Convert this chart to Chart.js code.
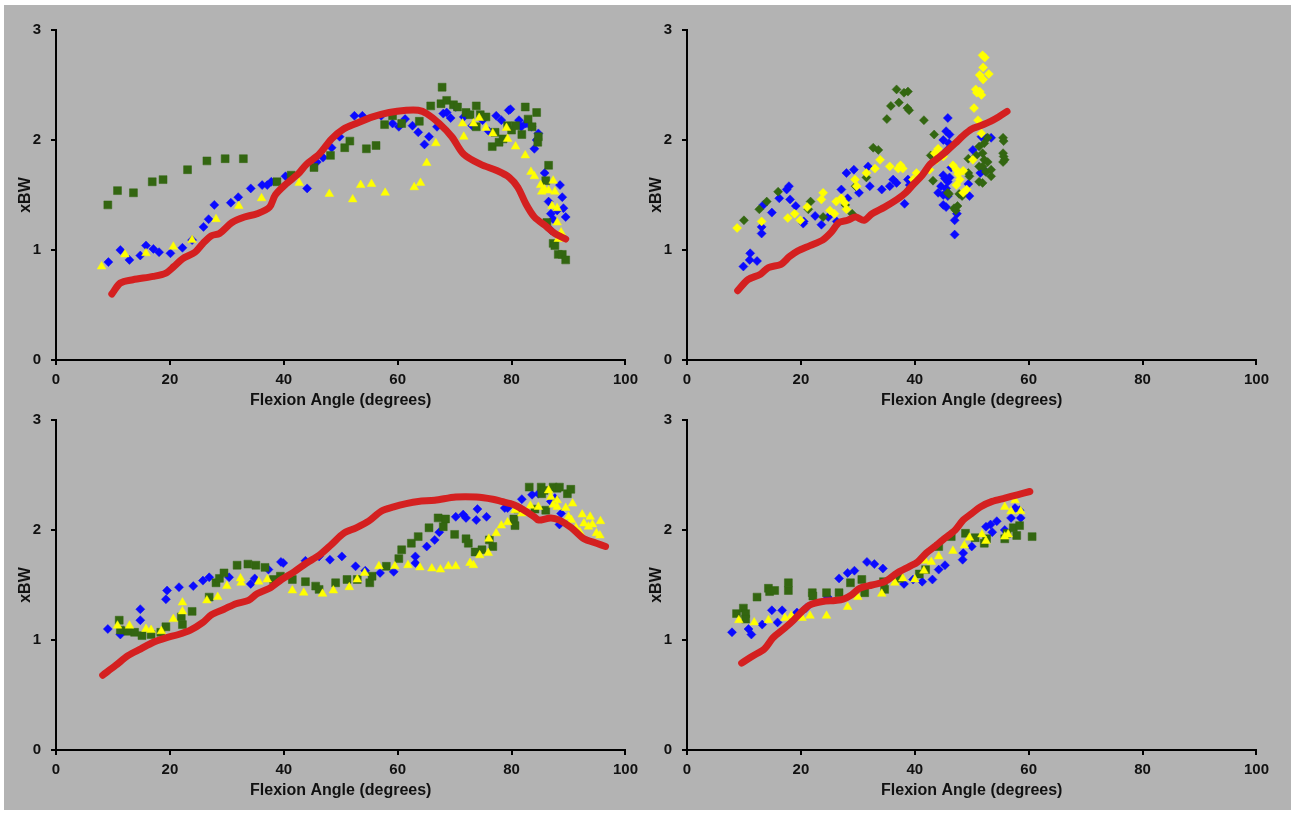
<!DOCTYPE html>
<html>
<head>
<meta charset="utf-8">
<script src="https://cdn.jsdelivr.net/npm/chart.js@4/dist/chart.umd.min.js"></script>
<style>
  html, body { margin: 0; padding: 0; background: #fff; width: 1291px; height: 814px; overflow: hidden; }
  #sheet { position: absolute; left: 4px; top: 5px; width: 1287px; height: 805px; background: #b3b3b3; }
  canvas { position: absolute; }
</style>
</head>
<body>
<div id="sheet"></div>
<canvas id="c1" width="640" height="405" style="left:4px;top:5px"></canvas>
<canvas id="c2" width="640" height="405" style="left:635px;top:5px"></canvas>
<canvas id="c3" width="640" height="405" style="left:4px;top:395px"></canvas>
<canvas id="c4" width="640" height="405" style="left:635px;top:395px"></canvas>
<script>
// axes
const xTicks = [0, 20, 40, 60, 80, 100];
const yTicks = [0, 1, 2, 3];
const xTitle = 'Flexion Angle (degrees)';
const yTitle = 'xBW';

// panel 1 (top left)
const p1Red = [[9.8,0.60],[11.3,0.70],[13.5,0.73],[17.1,0.76],[19.3,0.79],[20.7,0.85],[22.2,0.92],[24.4,0.98],[25.8,1.06],[27.3,1.13],[28.7,1.15],[30.9,1.25],[33.1,1.30],[35.3,1.33],[37.5,1.39],[38.5,1.50],[40.4,1.60],[42.5,1.69],[44.0,1.78],[46.2,1.87],[48.4,2.01],[50.5,2.10],[52.7,2.15],[55.6,2.21],[58.5,2.25],[61.5,2.27],[63.6,2.27],[65.1,2.24],[67.3,2.15],[69.5,2.03],[71.6,1.87],[74.5,1.78],[77.5,1.72],[79.6,1.66],[81.1,1.57],[82.5,1.42],[84.0,1.30],[86.2,1.21],[87.6,1.15],[89.5,1.10]];
const p1Blue = [[9.2,0.89],[11.3,1.00],[12.9,0.91],[14.8,0.95],[15.8,1.04],[17.1,1.01],[18.1,0.98],[20.1,0.97],[22.2,1.02],[23.9,1.09],[25.9,1.21],[26.8,1.28],[27.8,1.41],[30.7,1.43],[32.0,1.48],[34.2,1.56],[36.2,1.59],[37.1,1.59],[37.8,1.62],[40.3,1.67],[44.1,1.56],[45.8,1.80],[46.9,1.84],[48.4,1.93],[49.8,2.03],[52.4,2.22],[53.8,2.22],[57.1,2.22],[59.1,2.15],[60.2,2.12],[61.3,2.19],[62.6,2.13],[63.6,2.07],[64.7,1.96],[65.5,2.03],[66.9,2.12],[68.0,2.24],[68.6,2.25],[69.3,2.20],[70.2,2.30],[71.6,2.21],[73.1,2.13],[74.9,2.18],[76.0,2.08],[77.3,2.22],[78.2,2.18],[79.5,2.27],[79.8,2.28],[81.3,2.18],[81.7,2.12],[82.5,2.15],[83.5,2.12],[84.0,1.92],[84.4,2.00],[84.7,2.06],[85.8,1.70],[86.5,1.44],[86.9,1.33],[87.3,1.28],[88.0,1.36],[88.5,1.59],[88.9,1.48],[89.1,1.38],[89.5,1.30],[86.9,1.18]];
const p1Green = [[9.1,1.41],[10.8,1.54],[13.6,1.52],[16.9,1.62],[18.8,1.64],[23.1,1.73],[26.5,1.81],[29.7,1.83],[32.9,1.83],[38.8,1.62],[41.3,1.68],[45.3,1.75],[48.2,1.86],[50.7,1.93],[51.6,1.99],[54.5,1.92],[56.2,1.95],[57.7,2.14],[59.1,2.22],[60.7,2.15],[63.8,2.17],[65.8,2.31],[67.8,2.48],[67.6,2.33],[68.6,2.36],[69.8,2.32],[70.5,2.30],[72.0,2.25],[72.7,2.23],[73.8,2.31],[73.8,2.12],[74.5,2.23],[75.5,2.21],[76.6,1.94],[77.1,2.07],[77.8,1.98],[78.5,2.01],[79.3,2.13],[80.0,2.09],[80.7,2.13],[81.8,2.05],[82.4,2.30],[82.9,2.19],[83.6,2.12],[84.4,2.25],[84.6,1.98],[84.7,2.03],[86.0,1.63],[86.5,1.77],[86.2,1.25],[87.3,1.06],[87.6,1.04],[88.2,0.96],[88.9,0.96],[89.5,0.91]];
const p1Yellow = [[8.0,0.85],[12.1,0.96],[15.8,0.97],[20.6,1.03],[23.9,1.09],[28.1,1.28],[32.1,1.40],[36.1,1.47],[42.7,1.61],[48.0,1.51],[52.1,1.46],[53.5,1.59],[55.4,1.60],[57.8,1.52],[62.9,1.57],[64.0,1.61],[65.1,1.79],[66.7,1.97],[71.6,2.03],[71.4,2.15],[73.3,2.15],[74.3,2.20],[75.5,2.11],[76.7,2.06],[79.1,2.11],[79.3,2.01],[80.7,1.94],[82.4,1.86],[83.4,1.71],[84.0,1.67],[85.1,1.59],[85.3,1.53],[85.8,1.55],[86.5,1.54],[87.3,1.63],[87.6,1.53],[87.1,1.40],[88.0,1.38],[88.0,1.25],[88.7,1.16],[88.2,1.10]];

// panel 2 (top right)
const p2Red = [[8.9,0.63],[10.7,0.73],[12.9,0.78],[14.3,0.84],[16.5,0.87],[18.0,0.94],[19.4,0.99],[21.6,1.04],[23.8,1.09],[25.3,1.16],[26.7,1.25],[28.2,1.27],[29.6,1.30],[31.1,1.27],[32.5,1.33],[34.7,1.39],[36.9,1.46],[38.4,1.52],[39.8,1.60],[41.3,1.68],[42.7,1.78],[44.2,1.84],[45.6,1.90],[47.1,1.97],[48.5,2.04],[50.0,2.10],[51.5,2.13],[53.3,2.17],[54.7,2.21],[56.2,2.26]];
const p2Blue = [[9.9,0.85],[11.1,0.97],[11.0,0.91],[12.3,0.90],[13.1,1.21],[13.1,1.15],[13.4,1.41],[14.9,1.34],[16.2,1.47],[17.5,1.55],[17.9,1.58],[18.1,1.46],[19.1,1.40],[20.4,1.24],[20.5,1.26],[22.5,1.31],[23.6,1.23],[24.8,1.30],[26.3,1.26],[27.1,1.55],[28.0,1.70],[28.2,1.47],[29.3,1.73],[30.2,1.52],[31.8,1.76],[32.1,1.58],[34.2,1.55],[36.2,1.64],[36.8,1.61],[35.6,1.58],[38.2,1.42],[38.8,1.64],[39.1,1.59],[44.1,1.52],[44.6,1.58],[45.0,1.68],[45.7,1.91],[46.0,1.97],[45.8,2.20],[45.5,2.08],[46.1,2.05],[45.0,2.00],[45.3,1.65],[45.5,1.56],[45.0,1.50],[45.8,1.49],[45.8,1.62],[46.1,1.66],[46.4,1.75],[45.0,1.41],[45.5,1.39],[47.4,1.33],[47.0,1.27],[47.0,1.14],[49.4,1.60],[49.6,1.49],[51.7,2.03],[52.5,2.02],[53.4,2.02],[50.2,1.91],[51.5,1.70],[52.3,1.72]];
const p2Green = [[10.0,1.27],[12.7,1.37],[14.0,1.44],[16.0,1.53],[21.3,1.37],[21.7,1.44],[23.9,1.30],[27.8,1.41],[29.0,1.33],[29.6,1.58],[31.5,1.66],[32.7,1.93],[33.6,1.91],[35.1,2.19],[35.8,2.31],[36.8,2.46],[37.2,2.34],[38.1,2.43],[38.8,2.44],[38.7,2.29],[39.0,2.27],[41.6,2.18],[43.4,2.05],[43.2,1.63],[42.8,1.86],[46.0,1.51],[46.9,1.38],[47.2,1.36],[47.8,1.51],[48.3,1.49],[45.8,1.52],[47.5,1.40],[49.4,1.83],[50.8,1.86],[51.3,1.94],[51.9,1.88],[52.2,1.97],[52.8,2.02],[52.2,1.82],[52.8,1.80],[51.9,1.76],[51.3,1.76],[52.5,1.71],[53.4,1.73],[53.4,1.67],[51.3,1.62],[51.9,1.61],[49.4,1.70],[49.6,1.67],[55.5,2.02],[55.6,1.99],[55.5,1.88],[55.6,1.85],[55.8,1.82],[55.5,1.80]];
const p2Yellow = [[8.8,1.20],[13.1,1.26],[17.7,1.29],[18.9,1.33],[19.9,1.27],[21.1,1.39],[23.6,1.46],[23.9,1.52],[25.1,1.36],[25.9,1.33],[26.2,1.44],[27.1,1.47],[27.7,1.43],[28.0,1.37],[29.5,1.64],[29.8,1.58],[31.5,1.70],[33.0,1.74],[33.9,1.82],[35.6,1.76],[37.1,1.74],[37.5,1.77],[37.9,1.74],[39.7,1.64],[40.3,1.70],[40.9,1.66],[42.6,1.73],[43.5,1.88],[44.1,1.92],[43.8,1.82],[45.0,1.85],[46.7,1.77],[47.3,1.73],[47.6,1.69],[47.9,1.64],[48.5,1.72],[47.3,1.59],[48.5,1.52],[49.1,1.55],[50.2,1.82],[50.4,2.29],[50.7,2.46],[50.9,2.43],[51.4,2.44],[51.7,2.41],[51.1,2.18],[51.7,2.06],[51.4,2.59],[52.0,2.66],[51.9,2.77],[52.3,2.75],[53.0,2.60],[52.0,2.55]];

// panel 3 (bottom left)
const p3Red = [[8.2,0.68],[10.5,0.77],[12.7,0.86],[14.9,0.92],[17.1,0.98],[19.3,1.02],[21.5,1.05],[23.6,1.09],[25.8,1.16],[27.3,1.23],[29.5,1.28],[31.6,1.33],[33.8,1.36],[35.3,1.42],[37.5,1.47],[39.6,1.55],[41.8,1.62],[44.0,1.70],[46.2,1.77],[48.4,1.87],[50.5,1.97],[52.7,2.02],[54.9,2.08],[57.1,2.17],[59.3,2.21],[61.5,2.24],[63.6,2.26],[66.5,2.27],[70.2,2.30],[73.8,2.30],[76.7,2.28],[78.2,2.26],[80.4,2.23],[82.2,2.18],[84.0,2.12],[84.7,2.09],[86.9,2.11],[88.4,2.09],[90.5,2.02],[92.7,1.92],[94.9,1.88],[96.5,1.85]];
const p3Blue = [[9.1,1.10],[11.3,1.05],[14.8,1.18],[14.8,1.28],[19.3,1.37],[19.5,1.45],[21.6,1.48],[24.1,1.49],[25.8,1.54],[26.9,1.57],[30.4,1.57],[34.2,1.51],[34.9,1.56],[37.3,1.64],[39.5,1.71],[39.9,1.70],[43.8,1.72],[46.2,1.76],[48.1,1.73],[50.2,1.76],[52.6,1.67],[54.3,1.63],[56.9,1.61],[59.3,1.62],[63.1,1.76],[63.1,1.70],[65.1,1.85],[66.5,1.91],[67.3,1.98],[70.2,2.12],[71.5,2.14],[72.0,2.11],[73.8,2.09],[74.0,2.19],[75.6,2.12],[78.8,2.20],[79.3,2.20],[81.8,2.28],[83.6,2.32],[84.7,2.33],[86.9,2.26],[87.6,2.29],[88.4,2.05],[88.7,2.15]];
const p3Green = [[11.1,1.18],[11.3,1.09],[12.6,1.08],[13.8,1.07],[15.1,1.04],[16.7,1.05],[18.4,1.07],[19.3,1.12],[22.0,1.21],[22.2,1.14],[23.9,1.26],[26.9,1.39],[28.1,1.52],[28.7,1.56],[29.5,1.61],[31.8,1.68],[33.7,1.69],[35.1,1.68],[36.7,1.66],[38.2,1.55],[39.4,1.58],[41.5,1.55],[43.8,1.53],[45.6,1.49],[46.2,1.46],[49.1,1.52],[51.1,1.55],[52.9,1.55],[55.1,1.52],[55.5,1.58],[58.0,1.67],[60.2,1.74],[60.7,1.82],[62.4,1.88],[63.6,1.94],[65.5,2.02],[67.1,2.11],[68.4,2.10],[68.0,2.03],[70.0,1.96],[72.0,1.92],[72.4,1.88],[73.6,1.80],[74.8,1.82],[76.1,1.91],[76.7,1.85],[80.4,2.10],[80.6,2.04],[81.1,2.19],[83.1,2.39],[84.1,2.19],[85.2,2.39],[85.3,2.33],[85.7,2.36],[87.3,2.39],[88.0,2.38],[88.4,2.39],[89.8,2.33],[90.4,2.37],[86.0,2.18]];
const p3Yellow = [[10.8,1.13],[12.9,1.13],[15.8,1.10],[16.7,1.09],[18.5,1.08],[20.6,1.19],[22.2,1.34],[22.2,1.26],[26.5,1.36],[28.4,1.39],[30.0,1.49],[32.4,1.56],[32.5,1.52],[35.6,1.53],[37.1,1.55],[41.5,1.45],[43.5,1.43],[46.8,1.42],[48.7,1.45],[51.5,1.48],[52.9,1.55],[54.2,1.61],[56.7,1.67],[59.5,1.67],[61.8,1.68],[63.9,1.66],[66.0,1.65],[67.5,1.64],[68.9,1.67],[70.2,1.67],[72.7,1.70],[73.3,1.68],[74.4,1.77],[75.9,1.79],[76.0,1.92],[77.3,1.97],[78.2,2.04],[79.3,2.07],[80.6,2.18],[81.8,2.15],[83.3,2.22],[84.7,2.21],[86.5,2.36],[86.9,2.30],[87.3,2.23],[88.0,2.21],[88.0,2.27],[89.5,2.20],[90.0,2.12],[90.7,2.24],[90.5,2.09],[91.3,2.02],[92.0,1.98],[92.4,2.14],[92.7,2.06],[93.5,2.03],[93.8,2.12],[94.2,2.05],[94.9,1.97],[95.5,1.95],[95.6,2.08]];

// panel 4 (bottom right)
const p4Red = [[9.6,0.79],[11.4,0.85],[13.6,0.92],[15.1,1.02],[17.2,1.11],[18.7,1.18],[20.2,1.26],[21.6,1.32],[23.8,1.35],[26.0,1.36],[27.4,1.37],[28.9,1.41],[30.3,1.47],[32.5,1.50],[34.7,1.53],[36.9,1.61],[39.1,1.67],[40.5,1.71],[42.0,1.79],[43.5,1.85],[44.9,1.91],[47.1,2.00],[48.5,2.09],[50.0,2.15],[51.5,2.21],[53.6,2.26],[55.8,2.29],[58.0,2.32],[60.2,2.35]];
const p4Blue = [[7.9,1.07],[10.8,1.10],[11.3,1.05],[13.2,1.14],[14.9,1.27],[15.9,1.16],[16.7,1.27],[19.3,1.25],[20.9,1.29],[24.7,1.39],[26.7,1.56],[28.2,1.61],[29.4,1.63],[31.6,1.71],[32.9,1.69],[34.4,1.65],[38.1,1.51],[39.7,1.55],[41.3,1.53],[43.1,1.55],[44.2,1.64],[45.3,1.68],[48.4,1.73],[48.5,1.79],[50.0,1.85],[52.5,2.03],[53.3,2.05],[53.6,1.98],[54.4,2.08],[55.8,2.00],[56.9,2.11],[57.6,2.20],[58.4,2.18],[58.6,2.11]];
const p4Green = [[8.7,1.24],[9.9,1.29],[10.3,1.24],[10.3,1.19],[12.3,1.39],[14.3,1.47],[14.5,1.44],[15.4,1.45],[17.8,1.52],[17.8,1.45],[22.0,1.43],[22.1,1.40],[24.5,1.43],[26.7,1.43],[28.7,1.52],[30.7,1.55],[31.2,1.43],[34.5,1.53],[34.7,1.46],[37.3,1.56],[40.8,1.60],[41.9,1.64],[44.2,1.85],[46.4,1.94],[48.9,1.97],[50.6,1.93],[52.2,1.88],[52.6,1.92],[55.8,1.92],[56.2,1.97],[57.3,2.02],[57.9,1.95],[58.4,2.04],[60.6,1.94]];
const p4Yellow = [[9.1,1.18],[11.8,1.16],[14.3,1.18],[17.2,1.20],[18.3,1.22],[20.2,1.20],[21.6,1.22],[24.5,1.22],[28.2,1.30],[30.0,1.39],[34.2,1.42],[36.5,1.52],[37.9,1.56],[40.0,1.55],[41.6,1.63],[41.8,1.72],[42.9,1.71],[44.2,1.76],[46.7,1.81],[48.7,1.86],[49.6,1.93],[51.8,1.96],[52.5,1.90],[55.8,2.21],[55.8,1.94],[56.4,1.96],[56.9,2.17],[57.6,2.27],[58.6,2.17]];

const FONT = 'Liberation Sans, Arial, Helvetica, sans-serif';
const TEXT = '#111';

function pts(arr) {
    return arr.map(p => ({ x: p[0], y: p[1] }));
}

function markers(arr, color, style, radius) {
    return {
        data: pts(arr),
        pointStyle: style,
        pointRadius: radius,
        pointBackgroundColor: color,
        pointBorderColor: color,
        pointBorderWidth: 0.5,
        showLine: false
    };
}

function setupPanel(canvasId, red, blue, green, yellow, greenStyle, yellowStyle) {
    const ctx = document.getElementById(canvasId).getContext('2d');
    const gStyle = greenStyle === 'rect' ? ['rect', 5.6] : ['rectRot', 4.5];
    const yStyle = yellowStyle === 'triangle' ? ['triangle', 5] : ['rectRot', 4.5];
    new Chart(ctx, {
        type: 'scatter',
        data: {
            datasets: [
                {
                    data: pts(red),
                    showLine: true,
                    borderColor: '#d42020',
                    borderWidth: 7,
                    borderCapStyle: 'round',
                    borderJoinStyle: 'round',
                    tension: 0.3,
                    pointRadius: 0
                },
                markers(yellow, '#ffff00', yStyle[0], yStyle[1]),
                markers(green, '#336611', gStyle[0], gStyle[1]),
                markers(blue, '#0a0aff', 'rectRot', 4.5)
            ]
        },
        options: {
            responsive: false,
            animation: false,
            layout: { padding: { left: 0, right: 18, top: 25, bottom: 0 } },
            plugins: { legend: { display: false }, tooltip: { enabled: false } },
            scales: {
                x: {
                    type: 'linear',
                    min: 0,
                    max: 100,
                    afterBuildTicks: s => { s.ticks = xTicks.map(v => ({ value: v })); },
                    afterFit: s => { s.height = 50; },
                    ticks: { color: TEXT, padding: 6, font: { family: FONT, size: 15, weight: 'bold' } },
                    grid: { drawOnChartArea: false, drawTicks: true, tickLength: 5, color: '#000', lineWidth: 2 },
                    border: { display: true, color: '#000', width: 2 },
                    title: { display: true, text: xTitle, color: TEXT, padding: { top: 0, bottom: 0 }, font: { family: FONT, size: 16, weight: 'bold' } }
                },
                y: {
                    type: 'linear',
                    min: 0,
                    max: 3,
                    afterBuildTicks: s => { s.ticks = yTicks.map(v => ({ value: v })); },
                    afterFit: s => { s.width = 52; },
                    ticks: { color: TEXT, padding: 10, font: { family: FONT, size: 15, weight: 'bold' } },
                    grid: { drawOnChartArea: false, drawTicks: true, tickLength: 5, color: '#000', lineWidth: 2 },
                    border: { display: true, color: '#000', width: 2 },
                    title: { display: true, text: yTitle, color: TEXT, padding: { top: 12, bottom: 0 }, font: { family: FONT, size: 16, weight: 'bold' } }
                }
            }
        }
    });
}

setupPanel('c1', p1Red, p1Blue, p1Green, p1Yellow, 'rect', 'triangle');
setupPanel('c2', p2Red, p2Blue, p2Green, p2Yellow, 'rectRot', 'rectRot');
setupPanel('c3', p3Red, p3Blue, p3Green, p3Yellow, 'rect', 'triangle');
setupPanel('c4', p4Red, p4Blue, p4Green, p4Yellow, 'rect', 'triangle');
</script>
</body>
</html>
